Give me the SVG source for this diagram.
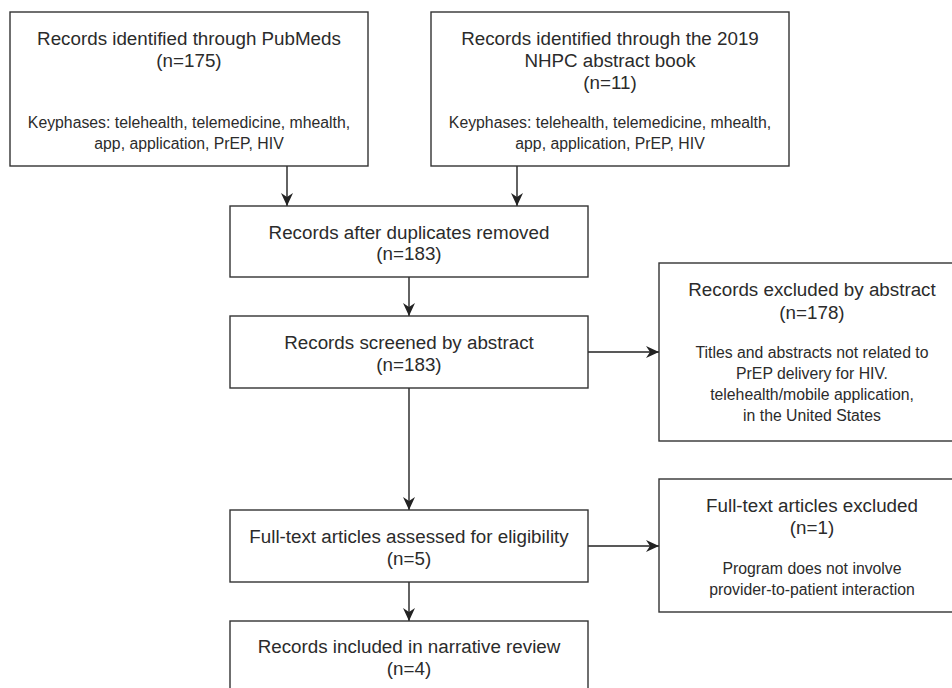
<svg xmlns="http://www.w3.org/2000/svg" width="952" height="688" viewBox="0 0 952 688">
<defs>
<style>
.box{fill:#fff;stroke:#333;stroke-width:1.4}
.t{font-family:"Liberation Sans",Arial,Helvetica,sans-serif;font-size:18.8px;fill:#2b2b2b;text-anchor:middle}
.s{font-family:"Liberation Sans",Arial,Helvetica,sans-serif;font-size:15.8px;fill:#2b2b2b;text-anchor:middle}
.c{stroke:#222;stroke-width:1.4;fill:none;marker-end:url(#ah)}
</style>
<marker id="ah" markerUnits="userSpaceOnUse" viewBox="0 0 13 12" refX="13" refY="6" markerWidth="13" markerHeight="12" orient="auto">
<path d="M0,0 L13,6 L0,12 L4,6 z" fill="#222"/>
</marker>
</defs>
<rect width="952" height="688" fill="#fff"/>
<g id="connectors">
<line class="c" x1="287" y1="166" x2="287" y2="206"/>
<line class="c" x1="517" y1="166" x2="517" y2="206"/>
<line class="c" x1="409" y1="277" x2="409" y2="316"/>
<line class="c" x1="588" y1="352" x2="659" y2="352"/>
<line class="c" x1="409" y1="388" x2="409" y2="510"/>
<line class="c" x1="588" y1="546" x2="659" y2="546"/>
<line class="c" x1="409" y1="582" x2="409" y2="621"/>
</g>
<g id="pubmed">
<rect class="box" x="10" y="12" width="358" height="154"/>
<text class="t" x="189" y="44.5">Records identified through PubMeds</text>
<text class="t" x="189" y="66.5">(n=175)</text>
<text class="s" x="189" y="127.5">Keyphases: telehealth, telemedicine, mhealth,</text>
<text class="s" x="189" y="148.5">app, application, PrEP, HIV</text>
</g>
<g id="nhpc">
<rect class="box" x="431" y="12" width="358" height="154"/>
<text class="t" x="610" y="44.5">Records identified through the 2019</text>
<text class="t" x="610" y="66.5">NHPC abstract book</text>
<text class="t" x="610" y="88.5">(n=11)</text>
<text class="s" x="610" y="127.5">Keyphases: telehealth, telemedicine, mhealth,</text>
<text class="s" x="610" y="148.5">app, application, PrEP, HIV</text>
</g>
<g id="dedup">
<rect class="box" x="230" y="206" width="358" height="71"/>
<text class="t" x="409" y="238.5">Records after duplicates removed</text>
<text class="t" x="409" y="260">(n=183)</text>
</g>
<g id="screened">
<rect class="box" x="230" y="316" width="358" height="72"/>
<text class="t" x="409" y="348.5">Records screened by abstract</text>
<text class="t" x="409" y="370.5">(n=183)</text>
</g>
<g id="excluded-abstract">
<rect class="box" x="659" y="263" width="310" height="178"/>
<text class="t" x="812" y="295.5">Records excluded by abstract</text>
<text class="t" x="812" y="318.5">(n=178)</text>
<text class="s" x="812" y="357.5">Titles and abstracts not related to</text>
<text class="s" x="812" y="378.5">PrEP delivery for HIV.</text>
<text class="s" x="812" y="399.5">telehealth/mobile application,</text>
<text class="s" x="812" y="420.5">in the United States</text>
</g>
<g id="fulltext">
<rect class="box" x="230" y="510" width="358" height="72"/>
<text class="t" x="409" y="542.5">Full-text articles assessed for eligibility</text>
<text class="t" x="409" y="564.5">(n=5)</text>
</g>
<g id="excluded-fulltext">
<rect class="box" x="659" y="479" width="310" height="133"/>
<text class="t" x="812" y="511.5">Full-text articles excluded</text>
<text class="t" x="812" y="533.5">(n=1)</text>
<text class="s" x="812" y="574">Program does not involve</text>
<text class="s" x="812" y="594.5">provider-to-patient interaction</text>
</g>
<g id="included">
<rect class="box" x="230" y="621" width="358" height="72"/>
<text class="t" x="409" y="652.5">Records included in narrative review</text>
<text class="t" x="409" y="674.5">(n=4)</text>
</g>
</svg>
